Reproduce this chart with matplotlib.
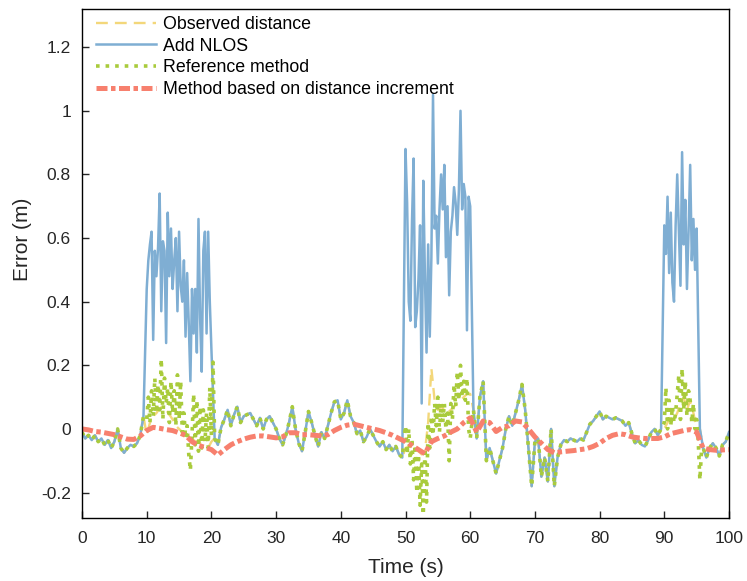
import numpy as np
import matplotlib
matplotlib.use('Agg')
import matplotlib.pyplot as plt
from matplotlib.ticker import FuncFormatter

plt.rcParams['font.family'] = ['Liberation Sans', 'DejaVu Sans']

# observed distance error, 0.5 s steps from 0 to 100 s
t_base = np.linspace(0, 100, 201)
obs_err = [
    -0.01, -0.03, -0.02, -0.035, -0.02, -0.04, -0.03, -0.05, -0.035, -0.06,
    -0.04, 0.0, -0.06, -0.075, -0.06, -0.05, -0.055, -0.045, -0.02, 0.04,
    -0.02, 0.02, 0.04, 0.05, 0.065, 0.07, 0.06, 0.045, 0.03, 0.01,
    0.0, -0.01, -0.02, -0.03, -0.03, -0.04, -0.04, -0.05, -0.055, -0.06,
    -0.04, -0.03, -0.05, 0.005, 0.03, 0.06, 0.01, 0.045, 0.07, 0.02,
    0.04, 0.045, 0.05, 0.03, 0.01, 0.035, 0.0, 0.03, 0.04, 0.02,
    0.0, -0.03, -0.05, -0.02, 0.02, 0.07, 0.0, -0.045, -0.07, -0.01,
    0.055, 0.02, -0.02, -0.055, -0.01, -0.03, 0.01, 0.05, 0.085, 0.09,
    0.03, 0.05, 0.09, 0.04, 0.02, -0.015, -0.005, -0.04, -0.025, 0.0,
    -0.02, -0.04, -0.055, -0.04, -0.065, -0.05, -0.07, -0.055, -0.08, -0.09,
    -0.06, -0.055, -0.06, -0.065, -0.07, -0.08, -0.07, 0.02, 0.19, 0.09,
    0.06, 0.07, 0.06, 0.05, 0.06, 0.07, 0.08, 0.09, 0.1, 0.11,
    0.11, 0.06, -0.03, 0.1, 0.15, -0.1, -0.06, -0.1, -0.14, -0.1,
    -0.06, 0.0, 0.04, 0.01, 0.05, 0.09, 0.14, 0.06, -0.06, -0.18,
    -0.04, -0.03, -0.15, -0.09, -0.165, 0.0, -0.18, -0.09, -0.05, -0.035,
    -0.04, -0.03, -0.035, -0.04, -0.03, -0.035, -0.01, 0.015, 0.025, 0.04,
    0.055, 0.03, 0.04, 0.035, 0.03, 0.035, 0.03, 0.025, 0.01, 0.02,
    -0.015, -0.045, -0.035, -0.05, -0.055, -0.035, -0.01, 0.0, -0.02, 0.0,
    0.0, 0.02, 0.04, 0.03, 0.05, 0.08, 0.1, 0.06, 0.09, 0.05,
    0.0, 0.0, -0.06, -0.09, -0.06, -0.045, -0.06, -0.085, -0.05, -0.04,
    -0.01]

# NLOS blocks, 0.25 s steps
t_nlos1 = np.linspace(10, 20, 41)
nlos1 = [0.44, 0.53, 0.58, 0.62, 0.28, 0.56, 0.48, 0.57, 0.74, 0.37,
         0.59, 0.56, 0.27, 0.68, 0.48, 0.63, 0.44, 0.53, 0.60, 0.37,
         0.62, 0.45, 0.40, 0.53, 0.29, 0.49, 0.33, 0.15, 0.44, 0.30,
         0.44, 0.24, 0.66, 0.35, 0.18, 0.56, 0.62, 0.30, 0.62, 0.40,
         0.25]
t_nlos2 = np.linspace(50, 60, 41)
nlos2 = [0.88, 0.71, 0.40, 0.34, 0.65, 0.85, 0.32, 0.37, 0.47, 0.64,
         0.08, 0.78, 0.48, 0.24, 0.58, 0.29, 0.54, 1.05, 0.63, 0.67,
         0.52, 0.69, 0.80, 0.69, 0.83, 0.54, 0.70, 0.42, 0.62, 0.67,
         0.76, 0.71, 0.61, 0.75, 1.00, 0.69, 0.77, 0.73, 0.31, 0.73,
         0.70]
t_nlos3 = np.linspace(90, 95, 21)
nlos3 = [0.64, 0.55, 0.73, 0.49, 0.68, 0.46, 0.40, 0.64, 0.80, 0.62,
         0.45, 0.87, 0.58, 0.72, 0.44, 0.62, 0.83, 0.53, 0.66, 0.50,
         0.63]

# reference method inside the NLOS blocks
t_ref1 = np.linspace(10, 20.5, 43)
ref1 = [0.03, 0.10, 0.02, 0.12, 0.04, 0.16, 0.05, 0.14, 0.06, 0.22,
        0.03, 0.16, 0.08, 0.13, 0.02, 0.15, 0.05, 0.12, 0.01, 0.17,
        0.03, 0.15, -0.01, 0.05, -0.03, 0.01, -0.08, -0.13, -0.02, 0.11,
        -0.05, 0.09, -0.07, 0.07, -0.06, 0.06, -0.04, 0.05, -0.06, 0.13,
        -0.02, 0.21, -0.03]
t_ref2 = np.linspace(50, 60, 41)
ref2 = [0.01, -0.08, 0.00, -0.11, -0.03, -0.16, -0.05, -0.20, -0.08, -0.24,
        -0.11, -0.27, -0.06, -0.23, 0.02, -0.06, 0.04, -0.02, 0.08, 0.01,
        0.10, -0.01, 0.08, 0.02, 0.08, 0.00, 0.05, -0.10, 0.08, 0.03,
        0.14, 0.07, 0.18, 0.09, 0.20, 0.10, 0.15, 0.09, 0.16, 0.00,
        -0.03]
t_ref3 = np.linspace(90, 95.75, 24)
ref3 = [0.02, 0.13, 0.00, 0.09, 0.01, 0.07, 0.02, 0.05, 0.11, 0.17,
        0.03, 0.19, 0.06, 0.15, 0.04, 0.12, 0.09, 0.02, 0.08, 0.00,
        0.03, -0.04, -0.16, -0.07]

# method based on distance increment, 1 s steps
t_inc = np.linspace(0, 100, 101)
inc_err = [
    0.0, -0.003, -0.008, -0.01, -0.014, -0.018, -0.025, -0.032, -0.033, -0.022,
    -0.005, 0.005, 0.002, -0.002, -0.005, -0.012, -0.02, -0.04, -0.052, -0.058,
    -0.065, -0.082, -0.065, -0.05, -0.04, -0.032, -0.026, -0.022, -0.022, -0.025,
    -0.028, -0.025, -0.012, -0.012, -0.018, -0.018, -0.02, -0.022, -0.018, -0.005,
    0.005, 0.012, 0.015, 0.01, 0.005, 0.0, -0.005, -0.012, -0.02, -0.03,
    -0.04, -0.052, -0.065, -0.078, -0.04, -0.03, -0.022, -0.01, 0.0, 0.02,
    0.035, -0.01, 0.025, 0.02, -0.008, 0.005, 0.01, 0.025, 0.022, 0.0,
    -0.025, -0.045, -0.065, -0.075, -0.072, -0.07, -0.068, -0.065, -0.062, -0.055,
    -0.045, -0.03, -0.02, -0.015, -0.018, -0.025, -0.028, -0.03, -0.03, -0.03,
    -0.025, -0.015, -0.01, -0.005, -0.002, -0.01, -0.06, -0.065, -0.067, -0.066,
    -0.065]


def splice(t, v, blocks):
    t = np.asarray(t)
    v = np.asarray(v)
    keep = np.ones(len(t), bool)
    for tb, vb in blocks:
        keep &= ~((t >= tb[0]) & (t <= tb[-1]))
    tt = np.concatenate([t[keep]] + [np.asarray(b[0]) for b in blocks])
    vv = np.concatenate([v[keep]] + [np.asarray(b[1]) for b in blocks])
    o = np.argsort(tt, kind='stable')
    return tt[o], vv[o]


t_blue, v_blue = splice(t_base, obs_err, [(t_nlos1, nlos1), (t_nlos2, nlos2), (t_nlos3, nlos3)])
t_green, v_green = splice(t_base, obs_err, [(t_ref1, ref1), (t_ref2, ref2), (t_ref3, ref3)])

fig = plt.figure(figsize=(7.47, 5.81), dpi=100)
ax = fig.add_axes([0.1098, 0.1084, 0.8661, 0.8761])

ax.plot(t_base, obs_err, '--', color='#F3D77A', lw=1.7, dashes=(5, 3),
        label='Observed distance')
ax.plot(t_blue, v_blue, '-', color='#7FAED3', lw=1.8, label='Add NLOS')
ax.plot(t_green, v_green, ':', color='#A9CB3C', lw=2.6,
        label='Reference method')
ax.plot(t_inc, inc_err, color='#F7806E', lw=3.6, dashes=(2.2, 0.7, 0.9, 0.7),
        label='Method based on distance increment')

ax.set_xlim(0, 100)
ax.set_ylim(-0.28, 1.32)
ax.set_xticks(np.arange(0, 101, 10))
ax.set_yticks([-0.2, 0, 0.2, 0.4, 0.6, 0.8, 1.0, 1.2])
ax.yaxis.set_major_formatter(FuncFormatter(lambda v, p: '%g' % round(v, 2)))
ax.tick_params(direction='in', length=5, width=1, labelsize=12.5, pad=8,
               colors='#262626')
ax.tick_params(axis='x', pad=9)
for s in ax.spines.values():
    s.set_linewidth(1.0)
    s.set_color('black')

ax.set_xlabel('Time (s)', fontsize=15, color='#262626', labelpad=9)
ax.set_ylabel('Error (m)', fontsize=15, color='#262626')
ax.yaxis.set_label_coords(-0.077, 0.548)

ax.legend(loc='upper left', frameon=False, fontsize=12.75, handlelength=3.4,
          handletextpad=0.35, labelspacing=0.26, borderaxespad=0.0,
          bbox_to_anchor=(0.011, 1.0))

fig.savefig('out.png', dpi=100)
